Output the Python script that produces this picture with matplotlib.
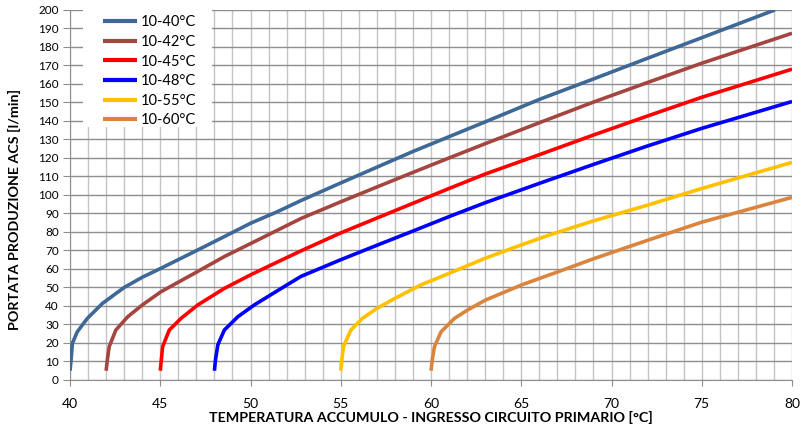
import matplotlib
matplotlib.use("Agg")
import matplotlib.pyplot as plt
from matplotlib.patches import Rectangle
from matplotlib.ticker import MultipleLocator

plt.rcParams["font.family"] = ["Lato", "DejaVu Sans"]

# Curve data (temperature [°C], flow [l/min])
labels = ["10-40°C", "10-42°C", "10-45°C", "10-48°C", "10-55°C", "10-60°C"]
colors = ["#3E6896", "#A4463F", "#FF0000", "#0000FF", "#FFC000", "#DB843D"]

t_40 = [40.0, 40.07, 40.13, 40.4, 40.96, 41.8, 43.0, 44.0, 45.0, 46.9, 48.55, 50.0, 51.5,
        52.8, 55.0, 57.0, 59.0, 61.0, 63.0, 66.07, 69.0, 72.0, 75.0, 79.05]
q_40 = [5, 12, 19.8, 26, 33.3, 41.4, 50, 55.5, 60.2, 69.4, 77.5, 84.7, 91,
        97, 106.5, 115, 123.5, 131.5, 139.5, 151.9, 162.7, 173.9, 185, 200]

t_42 = [42.0, 42.07, 42.17, 42.54, 43.2, 44.0, 45.04, 46.9, 48.55, 50.04, 51.5,
        52.8, 55.0, 57.0, 59.0, 61.0, 63.0, 66.07, 69.0, 72.0, 75.0, 80.0]
q_42 = [5, 11, 18, 27, 34.2, 40.5, 47.7, 57.7, 66.7, 73.9, 81,
        87.3, 96.3, 104.3, 112.2, 120, 127.7, 139.3, 150.2, 160.8, 171.2, 187.4]

t_45 = [45.0, 45.06, 45.13, 45.5, 46.15, 47.07, 48.55, 50.04, 51.5,
        52.8, 55.0, 57.0, 59.0, 61.0, 63.0, 66.07, 69.0, 72.0, 75.0, 80.0]
q_45 = [5, 11, 18, 27, 33.3, 40.5, 49.5, 57, 63.8,
        69.8, 79.5, 87.5, 95.5, 103.5, 111.3, 122, 132.4, 142.7, 152.8, 168]

t_48 = [48.0, 48.06, 48.19, 48.55, 49.3, 50.2, 51.5, 52.8, 55.0, 57.0, 59.0,
        61.0, 63.0, 66.07, 69.0, 72.0, 75.0, 80.0]
q_48 = [5, 11, 19, 27, 34.2, 40.5, 48.3, 56, 65, 72.8, 80.5,
        88.3, 95.8, 106.5, 116.5, 126.5, 136, 150.5]

t_55 = [55.0, 55.06, 55.15, 55.56, 56.2, 57.0, 58.0, 59.44, 61.02, 63.0, 65.0,
        66.6, 69.0, 72.0, 75.0, 80.0]
q_55 = [5, 11, 18, 27, 33.3, 38.7, 44.1, 51.4, 57.7, 65.8, 73,
        78.5, 86, 94.5, 103.5, 117.6]

t_60 = [60.0, 60.07, 60.19, 60.56, 61.3, 62.02, 63.02, 65.02, 67.04, 69.0, 72.0, 75.0, 80.0]
q_60 = [5, 11, 18, 26.1, 33.3, 37.8, 43.2, 51.4, 58.5, 65.5, 75.5, 85.3, 98.7]

series_t = [t_40, t_42, t_45, t_48, t_55, t_60]
series_q = [q_40, q_42, q_45, q_48, q_55, q_60]

fig = plt.figure(figsize=(8.01, 4.32), dpi=100)
ax = fig.add_axes([0.0874, 0.1204, 0.9014, 0.8566])

for t, q, lab, c in zip(series_t, series_q, labels, colors):
    ax.plot(t, q, color=c, lw=2.6, label=lab, solid_capstyle="butt",
            solid_joinstyle="round", zorder=3)

ax.set_xlim(40, 80)
ax.set_ylim(0, 200)
ax.xaxis.set_major_locator(MultipleLocator(5))
ax.xaxis.set_minor_locator(MultipleLocator(1))
ax.yaxis.set_major_locator(MultipleLocator(10))

ax.grid(which="both", axis="x", color="#c4c4c4", lw=1.0)
ax.grid(which="major", axis="y", color="#8e8e8e", lw=1.0)
ax.set_axisbelow(True)

for s in ["top", "right"]:
    ax.spines[s].set_visible(False)
for s in ["left", "bottom"]:
    ax.spines[s].set_color("#8e8e8e")

ax.tick_params(axis="x", which="major", labelsize=10, length=4, color="#8e8e8e", pad=9)
ax.tick_params(axis="x", which="minor", length=0)
ax.tick_params(axis="y", labelsize=8.5, length=5, color="#8e8e8e", pad=3)

ax.set_xlabel("TEMPERATURA ACCUMULO - INGRESSO CIRCUITO PRIMARIO [°C]",
              fontsize=10.3, fontweight="bold", labelpad=1)
ax.set_ylabel("PORTATA PRODUZIONE ACS [l/min]", fontsize=10.3, fontweight="bold", labelpad=3)
ax.yaxis.set_label_coords(-0.068, 0.462)

# white box behind the legend
ax.add_patch(Rectangle((0.018, 0.684), 0.179, 0.316, transform=ax.transAxes,
                       facecolor="white", edgecolor="none", zorder=4))

leg = ax.legend(loc="upper left", bbox_to_anchor=(0.0458, 0.985), frameon=False,
                fontsize=10.5, handlelength=2.35, handletextpad=0.2,
                labelspacing=0.38, borderpad=0, borderaxespad=0)
leg.set_zorder(5)
for h in leg.get_lines():
    h.set_linewidth(3)

fig.savefig("out.png", dpi=100)
